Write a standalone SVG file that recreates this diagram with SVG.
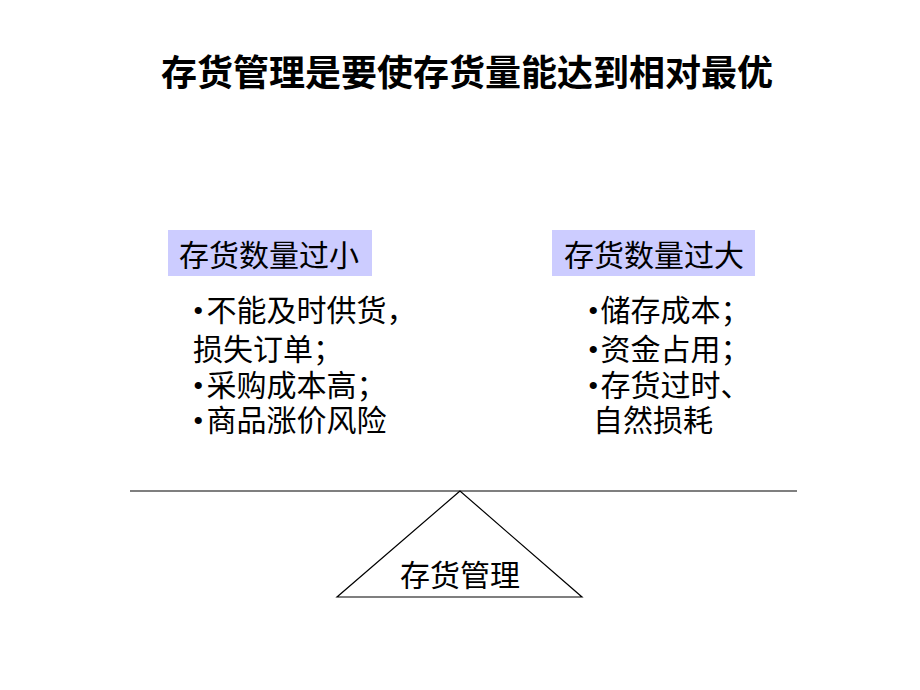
<svg xmlns="http://www.w3.org/2000/svg" width="920" height="690" viewBox="0 0 920 690">
<style>
text { font-family: "Liberation Serif", "Noto Sans CJK SC", serif; fill: #000; }
.title { font-size: 36px; font-weight: bold; font-family: "Liberation Sans", "Noto Sans CJK SC", sans-serif; }
.hd { font-size: 30px; }
.li { font-size: 30px; }
.box { fill: #ccccff; stroke: none; }
.ln { stroke: #000; stroke-width: 1.2; fill: none; }
</style>
<rect width="920" height="690" fill="#fff"/>
<g id="title"><text class="title" x="467" y="86" text-anchor="middle">存货管理是要使存货量能达到相对最优</text></g>
<g id="left">
<rect class="box" x="168" y="230" width="204" height="46"/>
<text class="hd" x="269" y="266" text-anchor="middle">存货数量过小</text>
<text class="li" x="193" y="321">•<tspan dx="3">不能及时供货，</tspan></text>
<text class="li" x="193" y="360">损失订单；</text>
<text class="li" x="193" y="396">•<tspan dx="3">采购成本高；</tspan></text>
<text class="li" x="193" y="431">•<tspan dx="3">商品涨价风险</tspan></text>
</g>
<g id="right">
<rect class="box" x="552" y="230" width="203" height="46"/>
<text class="hd" x="654" y="266" text-anchor="middle">存货数量过大</text>
<text class="li" x="588" y="321">•<tspan dx="2">储存成本；</tspan></text>
<text class="li" x="588" y="360">•<tspan dx="2">资金占用；</tspan></text>
<text class="li" x="588" y="396">•<tspan dx="2">存货过时、</tspan></text>
<text class="li" x="593" y="431">自然损耗</text>
</g>
<g id="connectors">
<line class="ln" x1="130" y1="491" x2="797" y2="491"/>
</g>
<g id="fulcrum">
<polygon class="ln" points="460,491 337,597 582,597"/>
<text class="hd" x="460" y="586" text-anchor="middle">存货管理</text>
</g>
</svg>
